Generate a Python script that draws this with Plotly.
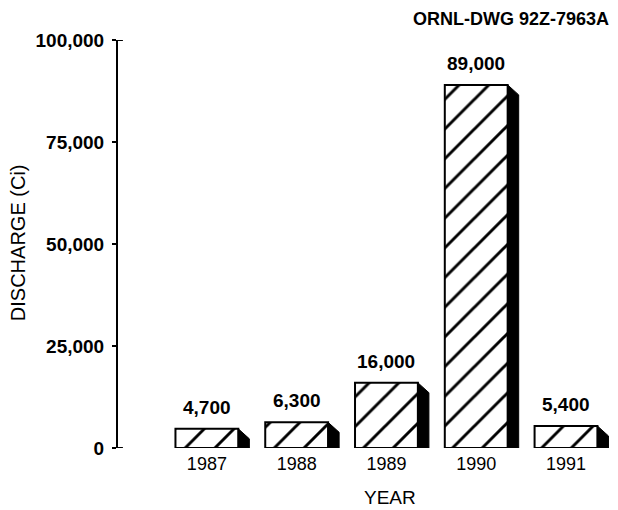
import plotly.graph_objects as go

years = ["1987", "1988", "1989", "1990", "1991"]
discharge = [4700, 6300, 16000, 89000, 5400]
y_ticks = [0, 25000, 50000, 75000, 100000]
y_tick_labels = ["0", "25,000", "50,000", "75,000", "100,000"]

FONT = "Liberation Sans, Arial, Helvetica, sans-serif"
pos = list(range(len(years)))
bar_w = 0.70
shadow_w = 0.123
drop = 2450

fig = go.Figure()
fig.add_trace(go.Bar(
    x=pos, y=discharge, width=bar_w,
    marker=dict(color="white",
                line=dict(color="black", width=2),
                pattern=dict(shape="/", fgcolor="black", bgcolor="white",
                             fgopacity=1, fillmode="replace",
                             size=21, solidity=0.14)),
    hoverinfo="skip", showlegend=False,
))

shapes = []
for i, v in zip(pos, discharge):
    xr = i + bar_w / 2
    path = (f"M {xr},{v} L {xr + shadow_w},{v - drop} "
            f"L {xr + shadow_w},0 L {xr},0 Z")
    shapes.append(dict(type="path", path=path, xref="x", yref="y",
                       fillcolor="black", line=dict(color="black", width=1)))

# small right-pointing ends of the axis
for yv in (0, 100000):
    shapes.append(dict(type="line", xref="paper", yref="y",
                       x0=0, x1=0.01, y0=yv, y1=yv,
                       line=dict(color="black", width=2)))

annotations = []
for i, v in zip(pos, discharge):
    annotations.append(dict(x=i, y=v, xref="x", yref="y", text=f"{v:,}",
                            showarrow=False, yanchor="bottom", yshift=9,
                            font=dict(family=FONT, size=19, color="black",
                                      weight="bold")))

annotations.append(dict(x=0, xshift=-100, y=0.502, xref="paper", yref="paper",
                        text="DISCHARGE (Ci)", textangle=-90, showarrow=False,
                        xanchor="center", yanchor="middle",
                        font=dict(family=FONT, size=20, color="black")))
annotations.append(dict(x=0.552, y=-0.122, xref="paper", yref="paper",
                        text="YEAR", showarrow=False,
                        xanchor="center", yanchor="middle",
                        font=dict(family=FONT, size=19, color="black")))
annotations.append(dict(x=1.003, y=1.051, xref="paper", yref="paper",
                        text="ORNL-DWG 92Z-7963A", showarrow=False,
                        xanchor="right", yanchor="middle",
                        font=dict(family=FONT, size=18, color="black",
                                  weight="bold")))

fig.update_layout(
    width=610, height=502,
    margin=dict(l=110, r=8, t=32, b=62),
    paper_bgcolor="white", plot_bgcolor="white",
    shapes=shapes, annotations=annotations,
    xaxis=dict(range=[-0.99, 4.49], tickvals=pos, ticktext=years,
               showline=False, showgrid=False, zeroline=False, ticks="",
               ticklabelstandoff=3,
               tickfont=dict(family=FONT, size=18, color="black")),
    yaxis=dict(range=[0, 100000], tickvals=y_ticks, ticktext=y_tick_labels,
               showline=True, linecolor="black", linewidth=2,
               showgrid=False, zeroline=False, ticks="outside", ticklen=4,
               tickwidth=2, tickcolor="black", ticklabelstandoff=4,
               tickfont=dict(family=FONT, size=19, color="black",
                             weight="bold")),
)

fig.write_html("out.html")
